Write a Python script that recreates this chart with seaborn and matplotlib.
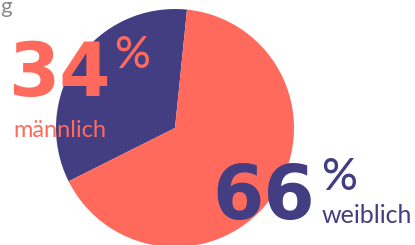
import matplotlib.pyplot as plt
import seaborn as sns

# data
labels = ["männlich", "weiblich"]
shares = [34, 66]
colors = ["#423E81", "#FF6A5D"]

W, H = 415, 245


def px(x, y):
    # pixel position (top-left origin) -> figure fraction
    return x / W, 1 - y / H


sns.set_theme(style="white")
plt.rcParams["font.family"] = ["Lato", "DejaVu Sans"]

fig = plt.figure(figsize=(W / 100, H / 100), dpi=100)

# pie centred at (175, 128) px, radius ~119 px
cx, cy, r = 175, 128, 119
ax = fig.add_axes([(cx - r) / W, (H - cy - r) / H, 2 * r / W, 2 * r / H])
ax.pie(shares, colors=colors, startangle=84.2, counterclock=True,
       wedgeprops=dict(linewidth=0))
ax.set_xlim(-1, 1)
ax.set_ylim(-1, 1)
ax.set_aspect("equal")
ax.axis("off")

# cut-off title remnant
fig.text(*px(0, 13), "g", color="#8a8a8a", fontsize=16, ha="left", va="baseline")

num = dict(family="DejaVu Sans", fontweight="bold", fontsize=53,
           ha="left", va="baseline")

# male label
fig.text(*px(8, 96), f"{shares[0]}", color=colors[1], **num)
fig.text(*px(114, 68), "%", color=colors[1], fontsize=32,
         fontweight="medium", ha="left", va="baseline")
fig.text(*px(13, 137), labels[0], color=colors[1], fontsize=17,
         ha="left", va="baseline")

# female label
fig.text(*px(212, 219), f"{shares[1]}", color=colors[0], **num)
fig.text(*px(321, 190), "%", color=colors[0], fontsize=32,
         fontweight="medium", ha="left", va="baseline")
fig.text(*px(322, 223), labels[1], color=colors[0], fontsize=18,
         ha="left", va="baseline")

plt.savefig("out.png", dpi=100)
